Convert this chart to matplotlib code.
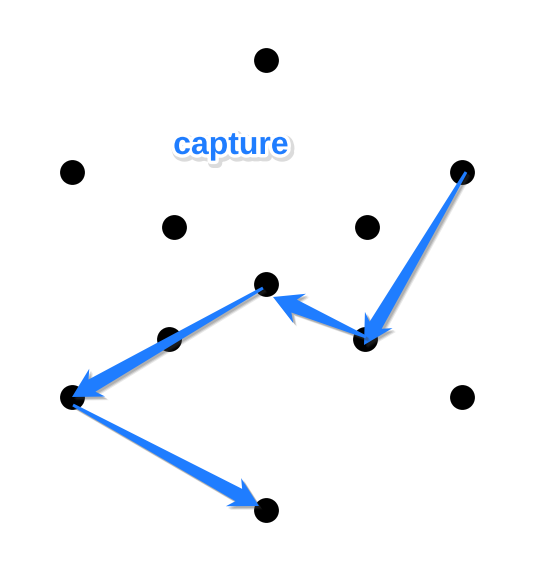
import numpy as np
import matplotlib
matplotlib.use("Agg")
import matplotlib.pyplot as plt
import matplotlib.patheffects as pe
from matplotlib.patches import Polygon

# dot positions (pixels, y down)
dot_x = [266, 72, 462, 174, 367, 266, 169, 365, 72, 462, 266]
dot_y = [60, 172, 172, 227, 227, 284, 339, 339, 397, 397, 510]

# arrows: start and tip
arrow_x0 = [466, 366, 263, 73]
arrow_y0 = [172, 337, 288, 405]
arrow_x1 = [364, 273, 72, 259]
arrow_y1 = [345, 297, 397, 506]

label = "capture"
label_x, label_y = 231, 146

blue = "#1f7dff"


def arrow_poly(x0, y0, x1, y1, w0=1.5, w1=7, hw=16, hl=29, notch=6):
    d = np.array([x1 - x0, y1 - y0], float)
    L = np.hypot(*d)
    u = d / L
    n = np.array([-u[1], u[0]])
    pts_uv = [(0, w0), (L - hl + notch, w1), (L - hl, hw), (L, 0),
              (L - hl, -hw), (L - hl + notch, -w1), (0, -w0)]
    p0 = np.array([x0, y0], float)
    return [p0 + a * u + b * n for a, b in pts_uv]


fig = plt.figure(figsize=(5.38, 5.63), dpi=100)
ax = fig.add_axes([0, 0, 1, 1])
ax.set_xlim(0, 538)
ax.set_ylim(563, 0)
ax.axis('off')

ax.scatter(dot_x, dot_y, s=320, color='black', zorder=2, linewidths=0)

# soft shadow: a few offset passes
shadow = [pe.SimplePatchShadow(offset=(o, -o), shadow_rgbFace='#444444', alpha=a)
          for o, a in [(2.6, 0.12), (2.0, 0.18), (1.4, 0.2)]]

for x0, y0, x1, y1 in zip(arrow_x0, arrow_y0, arrow_x1, arrow_y1):
    poly = Polygon(arrow_poly(x0, y0, x1, y1), closed=True, facecolor=blue,
                   edgecolor='none', zorder=3)
    poly.set_path_effects(shadow + [pe.Normal()])
    ax.add_patch(poly)

ax.text(label_x, label_y, label, color=blue, fontsize=23, fontweight='bold',
        family='Liberation Sans', ha='center', va='center', zorder=4,
        path_effects=[pe.Stroke(linewidth=7, foreground='#888888', alpha=0.3, offset=(1.5, -1.8)),
                      pe.Stroke(linewidth=5, foreground='white'),
                      pe.Normal()])

fig.savefig("out.png", dpi=100, facecolor='white')
